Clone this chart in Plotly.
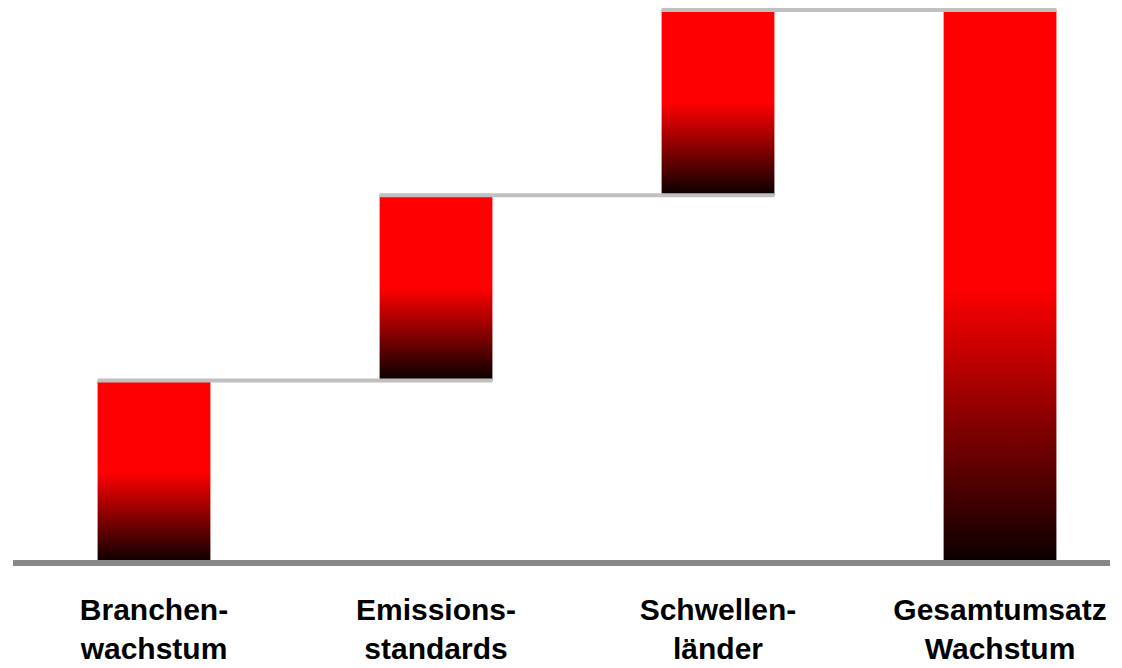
import plotly.graph_objects as go

categories = ["Branchen-<br>wachstum", "Emissions-<br>standards", "Schwellen-<br>länder", "Gesamtumsatz<br>Wachstum"]
increments = [33.0, 33.5, 33.5]
total = sum(increments)

bar_half = 0.2
x_range = [-0.5, 3.39]
grad = [[0.0, "#0a0000"], [0.5, "#ff0000"], [1.0, "#ff0000"]]

fig = go.Figure()

bases, tops = [], []
cum = 0.0
for v in increments:
    bases.append(cum)
    cum += v
    tops.append(cum)
bases.append(0.0)
tops.append(total)

for i, (b, t) in enumerate(zip(bases, tops)):
    fig.add_trace(go.Scatter(
        x=[i - bar_half, i + bar_half, i + bar_half, i - bar_half, i - bar_half],
        y=[b, b, t, t, b],
        mode="lines", line=dict(width=0, color="rgba(0,0,0,0)"),
        fill="toself",
        fillgradient=dict(type="vertical", start=b, stop=t, colorscale=grad),
        hoverinfo="skip", showlegend=False,
    ))

for i in range(len(bases) - 1):
    level = tops[i]
    fig.add_trace(go.Scatter(
        x=[i - bar_half, i + 1 + bar_half], y=[level, level],
        mode="lines", line=dict(color="#c0c0c0", width=4),
        hoverinfo="skip", showlegend=False, cliponaxis=False,
    ))

# baseline
fig.add_trace(go.Scatter(
    x=x_range, y=[0, 0], mode="lines", line=dict(color="#888888", width=6),
    hoverinfo="skip", showlegend=False, cliponaxis=False,
))

W, H = 1114, 660
px_per_unit = 553 / total
fig.update_layout(
    width=W, height=H,
    margin=dict(l=5, r=12, t=0, b=101, autoexpand=False),
    plot_bgcolor="white", paper_bgcolor="white",
    xaxis=dict(range=x_range, tickvals=list(range(len(categories))), ticktext=categories,
               showgrid=False, zeroline=False, showline=False, ticks="",
               automargin=False, ticklabelstandoff=22,
               tickfont=dict(family="Liberation Sans, Arial, sans-serif", size=30, color="black", weight="bold")),
    yaxis=dict(range=[-4 / px_per_unit, 555 / px_per_unit], visible=False, showgrid=False,
               zeroline=False, automargin=False),
)

fig.write_html("out.html")
